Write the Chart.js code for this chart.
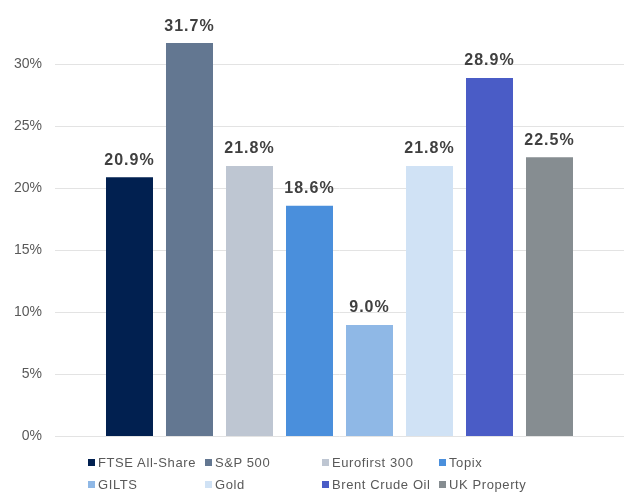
<!DOCTYPE html>
<html>
<head>
<meta charset="utf-8">
<script src="https://cdn.jsdelivr.net/npm/chart.js@4/dist/chart.umd.min.js"></script>
<style>
  body { margin: 0; background: #fff; }
  #wrap { position: relative; width: 624px; height: 492px; overflow: hidden; }
  #box { position: absolute; left: 0; top: 0; width: 624px; height: 458px; }
  #legend {
    position: absolute; left: 88px; top: 451px;
    display: grid; grid-template-columns: repeat(4, 117px); grid-auto-rows: 22px;
    font-family: "Liberation Sans", Arial, sans-serif; font-size: 13px;
    letter-spacing: 0.6px; color: #595959;
  }
  #legend span { display: flex; align-items: center; white-space: nowrap; }
  #legend i { display: inline-block; width: 7px; height: 7px; margin-right: 3px; }
</style>
</head>
<body>
<div id="wrap">
  <div id="box"><canvas id="barChart"></canvas></div>
  <div id="legend"></div>
</div>
<script>
const series = ['FTSE All-Share', 'S&P 500', 'Eurofirst 300', 'Topix', 'GILTS', 'Gold', 'Brent Crude Oil', 'UK Property'];
const values = [20.9, 31.7, 21.8, 18.6, 9.0, 21.8, 28.9, 22.5];
const colours = ['#012050', '#637791', '#bec6d2', '#4a8fdc', '#8fb8e6', '#d0e2f5', '#4a5cc6', '#868d91'];
const yTicks = [0, 5, 10, 15, 20, 25, 30];

// value labels above each bar
const barLabels = {
    id: 'barLabels',
    afterDatasetsDraw(chart) {
        const ctx = chart.ctx;
        ctx.save();
        ctx.font = 'bold 16px "Liberation Sans", Arial, sans-serif';
        ctx.letterSpacing = '1px';
        ctx.fillStyle = '#404040';
        ctx.textAlign = 'center';
        ctx.textBaseline = 'bottom';
        chart.data.datasets.forEach((ds, i) => {
            chart.getDatasetMeta(i).data.forEach((bar, j) => {
                ctx.fillText(ds.data[j].toFixed(1) + '%', bar.x, bar.y - 9);
            });
        });
        ctx.restore();
    }
};

const ctx = document.getElementById('barChart');
const myChart = new Chart(ctx, {
    type: 'bar',
    data: {
        labels: [''],
        datasets: series.map((name, i) => ({
            label: name,
            data: [values[i]],
            backgroundColor: colours[i],
            categoryPercentage: 0.8436,
            barPercentage: 0.7833
        }))
    },
    options: {
        responsive: true,
        maintainAspectRatio: false,
        animation: false,
        layout: { padding: { top: 0, right: 0, bottom: 10, left: 0 } },
        plugins: {
            legend: { display: false },
            tooltip: { enabled: false }
        },
        scales: {
            x: { display: false },
            y: {
                min: 0,
                max: 33.45,
                afterBuildTicks: (scale) => { scale.ticks = yTicks.map(v => ({ value: v })); },
                afterFit: (scale) => { scale.width = 55; },
                border: { display: false },
                grid: { color: '#e3e3e3', drawTicks: false },
                ticks: {
                    padding: 13,
                    color: '#595959',
                    font: { family: '"Liberation Sans", Arial, sans-serif', size: 14 },
                    callback: (v) => v + '%'
                }
            }
        }
    },
    plugins: [barLabels]
});

// legend laid out as a 4-column grid
const legend = document.getElementById('legend');
series.forEach((name, i) => {
    const item = document.createElement('span');
    item.innerHTML = '<i style="background:' + colours[i] + '"></i>' + name.replace('&', '&amp;');
    legend.appendChild(item);
});
</script>
</body>
</html>
